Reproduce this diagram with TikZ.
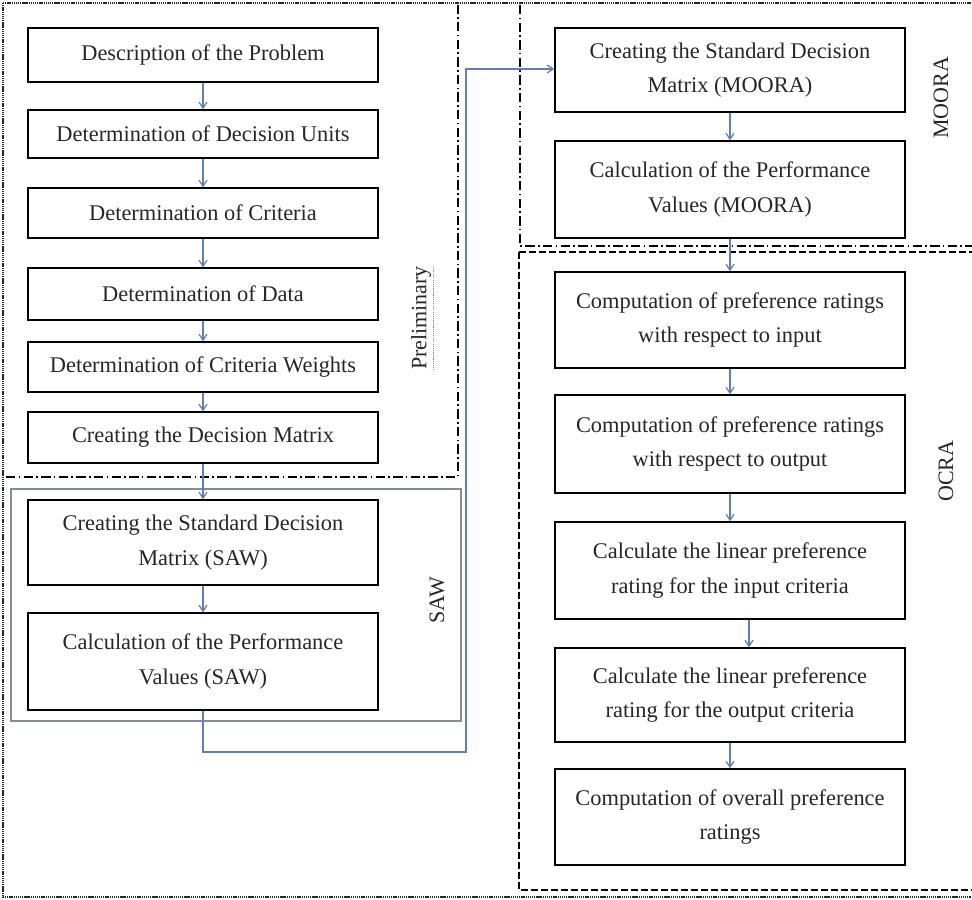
\documentclass[tikz,border=0pt]{standalone}
\usepackage{fontspec}
\setmainfont{Liberation Serif}
\usetikzlibrary{arrows.meta}
\definecolor{arrc}{RGB}{96,128,175}
\definecolor{framec}{RGB}{130,140,150}
\begin{document}
\begin{tikzpicture}[x=0.75pt,y=-0.75pt,
  box/.style={draw, line width=1.1pt, align=center, inner sep=0pt,
    font=\fontsize{16.8}{26}\selectfont, text=black!85},
  lbox/.style={box, minimum width=262.5pt},
  arr/.style={draw=arrc, line width=0.9pt, -{Straight Barb[length=4.5pt,width=6pt]}},
  seclabel/.style={rotate=90, font=\fontsize{16.5}{20}\selectfont, text=black!85, inner sep=0pt}]
\useasboundingbox (0,0) rectangle (972,900);
% outer dotted frame
\draw[black!85, line width=1.5pt, dash pattern=on 1pt off 0.6pt] (3,3) -- (971,3);
\draw[black!85, line width=1.5pt, dash pattern=on 1pt off 0.6pt] (3,3) -- (3,897) -- (971,897);
% preliminary frame
\draw[black, line width=0.9pt, dash pattern=on 7pt off 2.5pt on 1.2pt off 2.5pt] (6,477) -- (458,477) -- (458,5);
% SAW frame
\draw[framec, line width=0.9pt] (11,489) rectangle (461,721);
% MOORA frame
\draw[black, line width=0.9pt, dash pattern=on 7pt off 2.5pt on 1.2pt off 2.5pt] (520,5) -- (520,246) -- (972,246);
% OCRA frame
\draw[black, line width=0.9pt, dash pattern=on 5pt off 2.5pt] (519,252) -- (972,252);
\draw[black, line width=0.9pt, dash pattern=on 5pt off 2.5pt] (519,252) -- (519,890) -- (972,890);

% left column
\node[lbox, minimum height=40.5pt] (b1) at (203,55) {Description of the Problem};
\node[lbox, minimum height=36pt] (b2) at (203,134) {Determination of Decision Units};
\node[lbox, minimum height=37.5pt] (b3) at (203,213) {Determination of Criteria};
\node[lbox, minimum height=39pt] (b4) at (203,294) {Determination of Data};
\node[lbox, minimum height=37.5pt] (b5) at (203,367) {Determination of Criteria Weights};
\node[lbox, minimum height=38.25pt] (b6) at (203,437.5) {Creating the Decision Matrix};
\node[lbox, minimum height=63.75pt] (b7) at (203,542.5) {Creating the Standard Decision\\Matrix (SAW)};
\node[lbox, minimum height=72.75pt] (b8) at (203,661.5) {Calculation of the Performance\\Values (SAW)};

% right column
\node[lbox, minimum height=63pt] (m1) at (730,70) {Creating the Standard Decision\\Matrix (MOORA)};
\node[lbox, minimum height=72.75pt] (m2) at (730,189.5) {Calculation of the Performance\\Values (MOORA)};
\node[lbox, minimum height=72pt] (o1) at (730,320) {Computation of preference ratings\\with respect to input};
\node[lbox, minimum height=73.5pt] (o2) at (730,444) {Computation of preference ratings\\with respect to output};
\node[lbox, minimum height=72.75pt] (o3) at (730,570.5) {Calculate the linear preference\\rating for the input criteria};
\node[lbox, minimum height=70.5pt] (o4) at (730,695) {Calculate the linear preference\\rating for the output criteria};
\node[lbox, minimum height=72pt] (o5) at (730,817) {Computation of overall preference\\ratings};

% labels
\node[seclabel] (lp) at (421,318) {Preliminary};
\draw[red!70, line width=0.8pt, dash pattern=on 0.8pt off 0.8pt] ([xshift=1.5pt]lp.south west) -- ([xshift=1.5pt]lp.south east);
\node[seclabel] (ls) at (437,600) {SAW};
\node[seclabel] (lm) at (941,98) {MOORA};
\node[seclabel] (lo) at (946,471) {OCRA};

% arrows
\draw[arr] (b1) -- (b2);
\draw[arr] (b2) -- (b3);
\draw[arr] (b3) -- (b4);
\draw[arr] (b4) -- (b5);
\draw[arr] (b5) -- (b6);
\draw[arr] (b6) -- (b7);
\draw[arr] (b7) -- (b8);
\coordinate (c1) at (203,752);
\coordinate (c2) at (466,752);
\coordinate (c3) at (466,69);
\draw[arr] (b8.south) -- (c1) -- (c2) -- (c3) -- (m1.west |- c3);
\draw[arr] (m1) -- (m2);
\draw[arr] (m2) -- (o1);
\draw[arr] (o1) -- (o2);
\draw[arr] (o2) -- (o3);
\draw[arr] ([xshift=14.25pt]o3.south) -- ([xshift=14.25pt]o4.north);
\draw[arr] (o4) -- (o5);
\end{tikzpicture}
\end{document}
